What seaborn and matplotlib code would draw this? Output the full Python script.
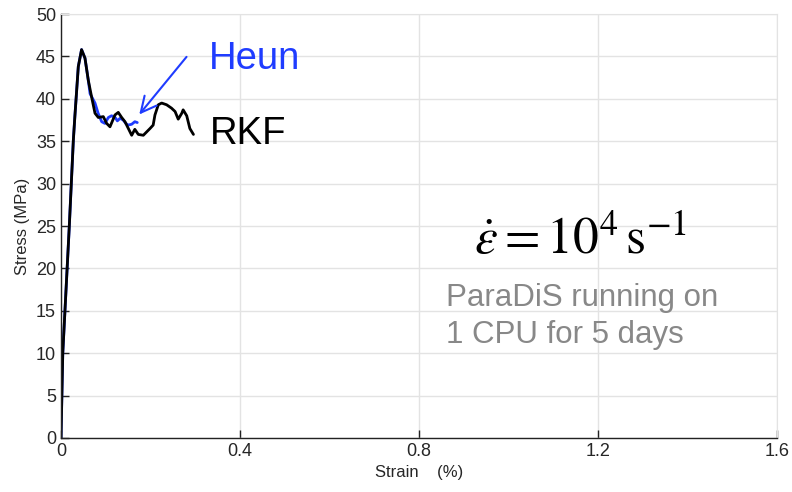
import seaborn as sns
import numpy as np
import pandas as pd
import matplotlib.pyplot as plt

# stress-strain curves
rkf_strain = [0.0, 0.004, 0.0186, 0.0276, 0.031, 0.0387, 0.046, 0.0536, 0.061, 0.0685,
              0.076, 0.0834, 0.0946, 0.102, 0.1095, 0.1207, 0.128, 0.1356, 0.143, 0.1505,
              0.158, 0.165, 0.1728, 0.184, 0.1915, 0.199, 0.206, 0.21, 0.2175, 0.225, 0.236,
              0.247, 0.255, 0.262, 0.27, 0.273, 0.281, 0.288, 0.296]
rkf_stress = [0.0, 10.0, 25.0, 35.1, 37.9, 43.8, 45.8, 44.8, 42.2, 40.2,
              38.3, 37.8, 37.9, 37.1, 36.7, 38.1, 38.4, 37.8, 37.3, 36.5,
              35.7, 36.4, 35.8, 35.7, 36.1, 36.5, 36.9, 38.1, 39.3, 39.5, 39.3,
              38.9, 38.5, 37.6, 38.3, 38.7, 38.0, 36.5, 35.8]

heun_strain = [0.0, 0.004, 0.0186, 0.0276, 0.031, 0.0387, 0.046, 0.0536, 0.061, 0.065,
               0.076, 0.083, 0.091, 0.098, 0.106, 0.113, 0.121, 0.126, 0.132, 0.139,
               0.145, 0.15, 0.158, 0.165, 0.1705]
heun_stress = [0.0, 10.0, 25.0, 35.1, 37.9, 43.8, 45.8, 44.8, 42.2, 40.6,
               39.5, 38.3, 37.3, 37.1, 37.8, 38.0, 37.8, 37.4, 37.7, 37.5,
               37.1, 36.9, 37.0, 37.3, 37.2]

x_ticks = [0, 0.4, 0.8, 1.2, 1.6]
x_ticklabels = ["0", "0.4", "0.8", "1.2", "1.6"]
y_ticks = list(range(0, 51, 5))

sns.set_style("white")
plt.rcParams["font.family"] = ["Liberation Sans", "DejaVu Sans"]
plt.rcParams["mathtext.fontset"] = "stix"
plt.rcParams["xtick.bottom"] = True
plt.rcParams["ytick.left"] = True

fig = plt.figure(figsize=(7.92, 4.92), dpi=100)
ax = fig.add_axes([0.077, 0.1098, 0.904, 0.8617])

heun = pd.DataFrame({"strain": heun_strain, "stress": heun_stress})
rkf = pd.DataFrame({"strain": rkf_strain, "stress": rkf_stress})
sns.lineplot(data=heun, x="strain", y="stress", ax=ax, color="#1f3cff", lw=2,
             sort=False, estimator=None)
sns.lineplot(data=rkf, x="strain", y="stress", ax=ax, color="black", lw=2,
             sort=False, estimator=None)

ax.set_xlim(0, 1.6)
ax.set_ylim(0, 50)
ax.set_xticks(x_ticks)
ax.set_xticklabels(x_ticklabels)
ax.set_yticks(y_ticks)
ax.grid(True, color="#e3e3e3", lw=1)
ax.set_axisbelow(True)
ax.tick_params(axis="both", which="major", direction="in", length=6, width=1,
               labelsize=13, color="#222222", top=False, right=False,
               left=True, bottom=True)
for s in ["top", "right"]:
    ax.spines[s].set_color("#e3e3e3")
for s in ["left", "bottom"]:
    ax.spines[s].set_color("#222222")
    ax.spines[s].set_linewidth(1)

ax.set_xlabel("Strain    (%)", fontsize=12, labelpad=4)
ax.set_ylabel("Stress (MPa)", fontsize=12, labelpad=4)

ax.annotate("", xy=(0.171, 37.9), xytext=(0.2845, 45.2),
            arrowprops=dict(arrowstyle="->", color="#1f3cff", lw=1.5, mutation_scale=28))
ax.text(0.33, 44.7, "Heun", color="#1f3cff", fontsize=27.5, va="center", ha="left")
ax.text(0.333, 35.9, "RKF", color="black", fontsize=27.5, va="center", ha="left")

ax.text(1.16, 23.3, r"$\dot{\varepsilon} = 10^4\,\mathrm{s}^{-1}$", fontsize=37,
        ha="center", va="center", color="black")
ax.text(0.86, 14.3, "ParaDiS running on\n1 CPU for 5 days", color="#888888",
        fontsize=22.5, ha="left", va="center", linespacing=1.3)

fig.savefig("out.png", dpi=100)
